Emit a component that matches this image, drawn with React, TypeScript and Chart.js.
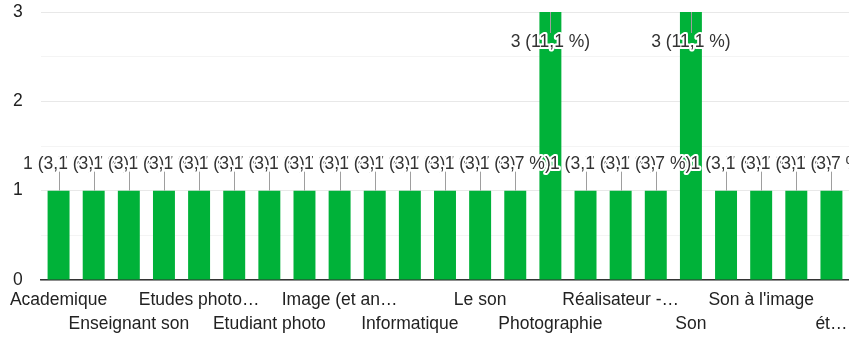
import React, { useEffect, useRef } from "react";
import { Chart, registerables } from "chart.js";

Chart.register(...registerables);

const categories = [
  "Academique",
  "Enseignant",
  "Enseignant son",
  "Etudes cinéma",
  "Etudes photo…",
  "Etudiant",
  "Etudiant photo",
  "Graphiste",
  "Image (et an…",
  "Infographie",
  "Informatique",
  "Journaliste",
  "Le son",
  "Montage",
  "Photographie",
  "Production",
  "Réalisateur -…",
  "Retraité",
  "Son",
  "Son et musique",
  "Son à l'image",
  "Vidéo",
  "ét…",
];

const counts = [1, 1, 1, 1, 1, 1, 1, 1, 1, 1, 1, 1, 1, 1, 3, 1, 1, 1, 3, 1, 1, 1, 1];

const yTicks = [0, 1, 2, 3];

const FONT_FAMILY = '"Liberation Sans", Arial, sans-serif';
const BAR_COLOR = "rgb(0,178,57)";

const labelPlugin = {
  id: "barLabels",
  afterDatasetsDraw(chart: any) {
    const { ctx, chartArea } = chart;
    const meta = chart.getDatasetMeta(0);
    const data = chart.data.datasets[0].data as number[];
    const total = data.reduce((a: number, b: number) => a + b, 0);
    ctx.save();
    ctx.font = `17.5px ${FONT_FAMILY}`;
    ctx.textAlign = "center";
    ctx.textBaseline = "middle";
    meta.data.forEach((el: any, i: number) => {
      const v = data[i];
      const pct = ((v / total) * 100).toFixed(1).replace(".", ",");
      const text = `${v} (${pct} %)`;
      const x = Math.round(el.x) + 0.5;
      const top = el.y;
      const inside = top - chartArea.top < 40;
      let y1: number, y2: number, ty: number;
      if (inside) {
        y1 = top;
        y2 = top + 21;
        ty = top + 30;
      } else {
        y1 = top - 19;
        y2 = top;
        ty = top - 26;
      }
      ctx.strokeStyle = "#9e9e9e";
      ctx.lineWidth = 1;
      ctx.beginPath();
      ctx.moveTo(x, y1);
      ctx.lineTo(x, y2);
      ctx.stroke();
      ctx.lineWidth = 4;
      ctx.lineJoin = "round";
      ctx.strokeStyle = "#ffffff";
      ctx.strokeText(text, el.x, ty);
      ctx.fillStyle = "#333333";
      ctx.fillText(text, el.x, ty);
    });
    ctx.restore();
  },
};

export default function App() {
  const ref = useRef<HTMLCanvasElement | null>(null);

  useEffect(() => {
    if (!ref.current) return;
    const chart = new Chart(ref.current, {
      type: "bar",
      data: {
        labels: categories,
        datasets: [
          {
            data: counts,
            backgroundColor: BAR_COLOR,
            borderWidth: 0,
            barPercentage: 0.625,
            categoryPercentage: 1,
          },
        ],
      },
      options: {
        responsive: false,
        animation: false,
        devicePixelRatio: 1,
        layout: { padding: { top: 12, left: 13, right: 0, bottom: 0 } },
        plugins: {
          legend: { display: false },
          tooltip: { enabled: false },
        },
        scales: {
          x: {
            z: 1,
            offset: true,
            afterFit: (s: any) => {
              s.height = 58;
              s.paddingRight = 0;
              s.paddingLeft = 0;
            },
            grid: { display: false, drawTicks: false },
            border: { display: true, color: "#333333", width: 1.5 },
            ticks: {
              autoSkip: false,
              maxRotation: 0,
              minRotation: 0,
              padding: 8,
              color: "#222222",
              font: { family: FONT_FAMILY, size: 17.5, lineHeight: 1.37 },
              callback: (_v: any, i: number) => {
                if (i % 2 === 1) return "";
                const lab = categories[i];
                return i % 4 === 2 ? ["", lab] : lab;
              },
            },
          },
          y: {
            min: yTicks[0],
            max: yTicks[yTicks.length - 1],
            afterFit: (s: any) => {
              s.width = 28;
            },
            border: { display: false },
            grid: {
              drawTicks: false,
              color: (c: any) =>
                Number.isInteger(c.tick?.value) ? "#e8e8e8" : "#f4f4f4",
            },
            ticks: {
              stepSize: 0.5,
              padding: 0,
              crossAlign: "far",
              color: "#222222",
              font: { family: FONT_FAMILY, size: 17.5 },
              callback: (v: any) => (yTicks.includes(Number(v)) ? String(v) : ""),
            },
          },
        },
      },
      plugins: [labelPlugin],
    });
    return () => chart.destroy();
  }, []);

  return (
    <div style={{ position: "absolute", left: 0, top: 0, width: 849, height: 338 }}>
      <canvas ref={ref} width={849} height={338} style={{ display: "block" }} />
    </div>
  );
}
